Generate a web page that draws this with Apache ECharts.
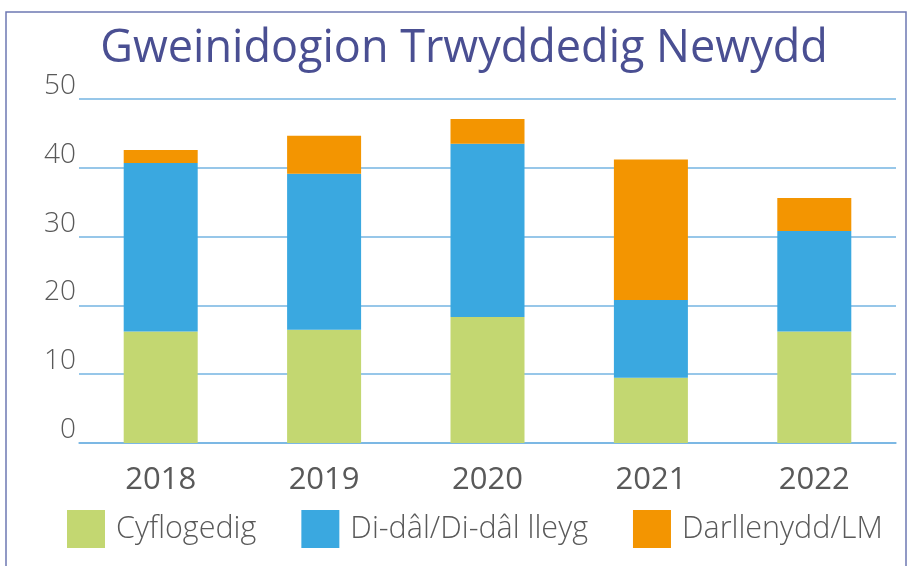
<!DOCTYPE html>
<html>
<head>
<meta charset="utf-8">
<script src="https://cdn.jsdelivr.net/npm/echarts@6/dist/echarts.min.js"></script>
<style>
html,body{margin:0;padding:0;background:#fff;}
#chart{width:912px;height:566px;}
</style>
</head>
<body>
<div id="chart"></div>
<script>
var categories = ['2018', '2019', '2020', '2021', '2022'];
var cyflogedig = [16.2, 16.45, 18.3, 9.5, 16.2];
var didal = [24.5, 22.7, 25.2, 11.3, 14.6];
var darllenydd = [1.9, 5.5, 3.6, 20.4, 4.8];
var yTicks = [0, 10, 20, 30, 40, 50];

var FONT = '"Open Sans", "Noto Sans", sans-serif';
var chart = echarts.init(document.getElementById('chart'));
chart.setOption({
  animation: false,
  title: {
    text: 'Gweinidogion Trwyddedig Newydd',
    left: 464,
    textAlign: 'center',
    top: 27,
    padding: 0,
    textStyle: { fontFamily: FONT, fontSize: 45, fontWeight: 'normal', color: '#4a4f92' }
  },
  graphic: [{
    type: 'rect',
    shape: { x: 6, y: 12, width: 900, height: 600 },
    style: { fill: 'none', stroke: '#6d78b2', lineWidth: 1.5 },
    silent: true
  }],
  legend: {
    left: 67,
    top: 510,
    padding: 0,
    itemWidth: 38,
    itemHeight: 38,
    itemGap: 45,
    icon: 'rect',
    textStyle: { fontFamily: FONT, fontSize: 30.5, fontWeight: 300, color: '#595959', padding: [0, 0, 0, 6] },
    data: ['Cyflogedig', 'Di-dâl/Di-dâl lleyg', 'Darllenydd/LM']
  },
  grid: { left: 79, right: 16, top: 99, bottom: 123, containLabel: false },
  xAxis: {
    type: 'category',
    data: categories,
    axisLine: { lineStyle: { color: '#74b4e2', width: 1.5 } },
    axisTick: { show: false },
    axisLabel: { fontFamily: FONT, fontSize: 31, lineHeight: 32, margin: 21, color: '#595959' }
  },
  yAxis: {
    type: 'value',
    min: yTicks[0],
    max: yTicks[yTicks.length - 1],
    interval: yTicks[1] - yTicks[0],
    axisLine: { show: false },
    axisTick: { show: false },
    splitLine: { lineStyle: { color: '#74b4e2', width: 1.5 } },
    axisLabel: { fontFamily: FONT, fontSize: 28, fontWeight: 300, lineHeight: 26, verticalAlign: 'bottom', margin: 3, color: '#595959' }
  },
  series: [
    { name: 'Cyflogedig', type: 'bar', stack: 'a', data: cyflogedig, barWidth: 74, itemStyle: { color: '#c3d771' } },
    { name: 'Di-dâl/Di-dâl lleyg', type: 'bar', stack: 'a', data: didal, barWidth: 74, itemStyle: { color: '#3aa8e0' } },
    { name: 'Darllenydd/LM', type: 'bar', stack: 'a', data: darllenydd, barWidth: 74, itemStyle: { color: '#f39501' } }
  ]
});
</script>
</body>
</html>
